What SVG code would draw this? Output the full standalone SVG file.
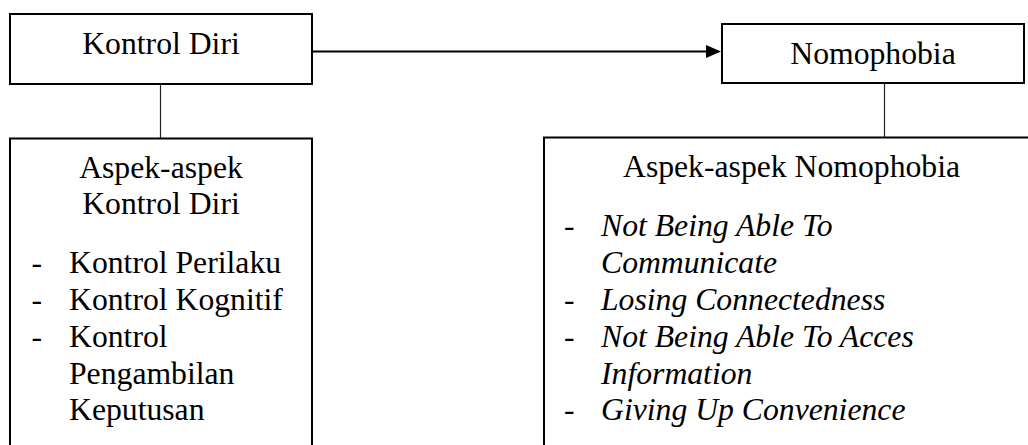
<svg xmlns="http://www.w3.org/2000/svg" width="1028" height="445" viewBox="0 0 1028 445">
<defs>
<style>
.box{fill:#fff;stroke:#000;stroke-width:2}
.t{font-family:"Liberation Serif","Times New Roman",serif;font-size:31.7px;fill:#000}
.c{text-anchor:middle}
.i{font-style:italic}
.thin{stroke:#222;stroke-width:1.2;fill:none}
.arrow{stroke:#000;stroke-width:2;fill:none}
</style>
</defs>
<rect width="1028" height="445" fill="#fff"/>
<g id="connectors">
<line class="thin" x1="160.5" y1="84" x2="160.5" y2="138"/>
<line class="thin" x1="884.5" y1="83" x2="884.5" y2="137"/>
<line class="arrow" x1="312" y1="51.5" x2="707" y2="51.5"/>
<polygon points="706,45 721,51.5 706,58" fill="#000"/>
</g>
<g id="kontrol-diri">
<rect class="box" x="10" y="14" width="302" height="70"/>
<text class="t c" x="161" y="54">Kontrol Diri</text>
</g>
<g id="nomophobia">
<rect class="box" x="722" y="24" width="302" height="59"/>
<text class="t c" x="873" y="63.5">Nomophobia</text>
</g>
<g id="aspek-kontrol-diri">
<rect class="box" x="10" y="138.5" width="302" height="320"/>
<text class="t c" x="161" y="177.5">Aspek-aspek</text>
<text class="t c" x="161" y="214">Kontrol Diri</text>
<text class="t" x="31.5" y="272.7">-</text>
<text class="t" x="69" y="272.7">Kontrol Perilaku</text>
<text class="t" x="31.5" y="309.7">-</text>
<text class="t" x="69" y="309.7">Kontrol Kognitif</text>
<text class="t" x="31.5" y="346.7">-</text>
<text class="t" x="69" y="346.7">Kontrol</text>
<text class="t" x="69" y="383.5">Pengambilan</text>
<text class="t" x="69" y="420">Keputusan</text>
</g>
<g id="aspek-nomophobia">
<rect class="box" x="544" y="137.5" width="520" height="330"/>
<text class="t" x="623" y="177">Aspek-aspek Nomophobia</text>
<text class="t" x="564" y="236">-</text>
<text class="t i" x="601" y="236">Not Being Able To</text>
<text class="t i" x="601" y="272.5">Communicate</text>
<text class="t" x="564" y="310">-</text>
<text class="t i" x="601" y="310">Losing Connectedness</text>
<text class="t" x="564" y="346.7">-</text>
<text class="t i" x="601" y="346.7">Not Being Able To Acces</text>
<text class="t i" x="601" y="383.7">Information</text>
<text class="t" x="564" y="420">-</text>
<text class="t i" x="601" y="420">Giving Up Convenience</text>
</g>
</svg>
